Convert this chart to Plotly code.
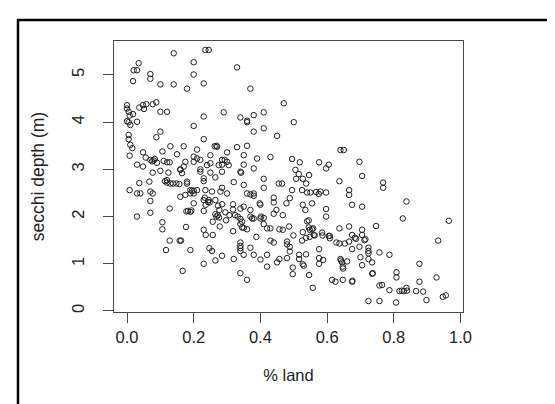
import plotly.graph_objects as go

# % land (x) and secchi depth in m (y)
pct_land = [
    0.035, 0.02, 0.03, 0.018, 0.07, 0.07, 0.1, 0.14, 0.14, 0.18, 0.2, 0.2, 0.23, 0.235, 0.245, 0.33, 0.37,
    0.0, 0.0, 0.005, 0.008, 0.0, 0.005, 0.018, 0.03, 0.01, 0.005, 0.005, 0.01, 0.016, 0.008, 0.037, 0.048,
    0.058, 0.051, 0.077, 0.088, 0.1, 0.12, 0.1, 0.088, 0.2, 0.23, 0.29, 0.34, 0.36, 0.36, 0.38, 0.41, 0.41,
    0.38, 0.45, 0.47, 0.5, 0.23, 0.36, 0.35, 0.33, 0.263, 0.268, 0.27, 0.17, 0.13, 0.15, 0.106, 0.048, 0.64,
    0.65, 0.21,
    0.03, 0.048, 0.056, 0.07, 0.075, 0.08, 0.083, 0.09, 0.077, 0.1, 0.11, 0.12, 0.128, 0.124, 0.114, 0.12,
    0.13, 0.138, 0.148, 0.157, 0.12, 0.16, 0.17, 0.175, 0.18, 0.165, 0.18, 0.19, 0.19, 0.195, 0.2, 0.16,
    0.175, 0.2, 0.2, 0.21, 0.22, 0.22, 0.23, 0.23, 0.24, 0.25, 0.25, 0.21, 0.235, 0.255, 0.265, 0.275,
    0.285, 0.285, 0.3, 0.3, 0.305, 0.28, 0.285, 0.3, 0.32, 0.34, 0.342, 0.35, 0.35, 0.38, 0.39, 0.36, 0.38,
    0.37, 0.38, 0.41, 0.41, 0.43, 0.455, 0.465, 0.495, 0.518, 0.505, 0.515, 0.507, 0.527, 0.546, 0.537,
    0.495, 0.525, 0.54, 0.55, 0.567, 0.575, 0.58, 0.576, 0.597, 0.605, 0.597, 0.637, 0.666, 0.666, 0.697,
    0.705, 0.768, 0.768, 0.675, 0.705, 0.838, 0.827, 0.965, 0.933,
    0.008, 0.03, 0.04, 0.037, 0.067, 0.07, 0.077, 0.07, 0.07, 0.03, 0.128, 0.106, 0.106, 0.117, 0.128,
    0.158, 0.162, 0.167, 0.177, 0.178, 0.183, 0.19, 0.193, 0.19, 0.2, 0.2, 0.23, 0.233, 0.245, 0.236,
    0.248, 0.243, 0.23, 0.23, 0.236, 0.23, 0.247, 0.255, 0.257, 0.265, 0.273, 0.257, 0.265, 0.268, 0.272,
    0.276, 0.277, 0.278, 0.265, 0.285, 0.285, 0.295, 0.297, 0.307, 0.318, 0.318, 0.324, 0.332, 0.34,
    0.318, 0.34, 0.345, 0.345, 0.35, 0.36, 0.32, 0.34, 0.35, 0.34, 0.34, 0.34, 0.34, 0.35, 0.34, 0.36,
    0.37, 0.37, 0.375, 0.38, 0.37, 0.38, 0.388, 0.398, 0.4, 0.4, 0.41, 0.402, 0.4, 0.42, 0.42, 0.41, 0.42,
    0.43, 0.43, 0.44, 0.44, 0.44, 0.44, 0.448, 0.457, 0.45, 0.457, 0.467, 0.467, 0.48, 0.478, 0.488, 0.486,
    0.48, 0.48, 0.488, 0.488, 0.499, 0.497, 0.497, 0.516, 0.516, 0.527, 0.535, 0.527, 0.525, 0.527, 0.53,
    0.54, 0.545, 0.545, 0.548, 0.537, 0.537, 0.548, 0.555, 0.558, 0.56, 0.563, 0.555, 0.546, 0.557, 0.576,
    0.576, 0.576, 0.586, 0.597, 0.597, 0.608, 0.615, 0.625, 0.637, 0.637, 0.64, 0.642, 0.645, 0.647, 0.648,
    0.647, 0.653, 0.66, 0.666, 0.666, 0.675, 0.675, 0.675, 0.676, 0.687, 0.697, 0.7, 0.705, 0.705, 0.712,
    0.715, 0.724, 0.724, 0.724, 0.724, 0.735, 0.735, 0.737, 0.747, 0.757, 0.757, 0.765, 0.787, 0.787,
    0.808, 0.808, 0.817, 0.824, 0.83, 0.838, 0.84, 0.867, 0.877, 0.877, 0.888, 0.898, 0.928, 0.947, 0.956,
    0.724, 0.757, 0.807,
    0.705, 0.683, 0.585, 0.605, 0.628, 0.588, 0.608, 0.16, 0.22, 0.25, 0.293, 0.285,
]
secchi_depth = [
    5.25, 5.1, 5.1, 4.87, 5.02, 4.92, 4.8, 4.8, 5.46, 4.71, 5.27, 5.01, 4.82, 5.53, 5.53, 5.16, 4.71,
    4.36, 4.29, 4.22, 4.14, 4.02, 4.0, 4.17, 4.01, 3.94, 3.73, 3.64, 3.52, 3.45, 3.29, 4.31, 4.36,
    4.38, 4.28, 4.38, 4.42, 4.22, 4.22, 3.8, 3.68, 3.92, 4.12, 4.21, 4.1, 4.03, 4.0, 4.15, 4.21, 3.87,
    3.8, 3.71, 4.4, 4.0, 3.64, 3.5, 3.3, 3.47, 3.49, 3.5, 3.48, 3.49, 3.49, 3.32, 3.38, 3.36, 3.41,
    3.41, 3.42,
    3.1, 3.06, 3.25, 3.2, 3.17, 3.19, 3.22, 3.14, 2.93, 2.97, 3.18, 3.15, 3.15, 2.93, 2.75, 2.72,
    2.7, 2.7, 2.7, 2.69, 2.77, 2.99, 3.06, 3.16, 2.74, 2.92, 2.7, 2.56, 2.49, 2.55, 2.55, 2.42,
    2.46, 3.27, 3.16, 3.23, 2.95, 3.2, 2.81, 2.75, 3.09, 3.3, 3.13, 2.56, 2.56, 2.53, 2.83, 3.09,
    3.2, 2.95, 3.36, 3.16, 3.09, 2.53, 2.61, 2.49, 2.73, 2.95, 2.93, 3.1, 2.67, 3.02, 3.23, 2.49, 2.49,
    2.47, 2.44, 2.8, 2.61, 3.26, 2.7, 2.7, 3.22, 3.15, 2.99, 2.9, 2.8, 2.8, 2.88, 2.7,
    2.56, 2.56, 2.51, 2.51, 2.52, 2.48, 2.53, 3.15, 3.02, 3.1, 2.51, 2.75, 2.56, 2.46, 3.16,
    2.86, 2.72, 2.61, 2.25, 2.21, 2.32, 1.96, 1.91, 1.49,
    2.56, 2.49, 2.49, 2.71, 2.74, 2.53, 2.49, 2.33, 2.08, 2.0, 2.17, 1.88, 1.73, 1.29, 1.49,
    1.49, 1.49, 0.85, 1.78, 2.11, 2.12, 2.1, 2.13, 1.29, 2.28, 2.49, 2.35, 2.4, 2.35, 2.25,
    2.3, 2.31, 2.12, 1.72, 1.61, 1.0, 1.33, 1.27, 1.61, 2.35, 2.23, 1.89, 2.05, 2.0, 2.03,
    1.98, 2.14, 1.79, 1.07, 1.17, 2.26, 2.09, 1.92, 2.03, 2.26, 2.15, 2.03, 2.0, 1.95,
    1.69, 1.84, 1.89, 1.77, 1.76, 1.73, 1.1, 2.17, 2.21, 1.45, 1.38, 1.33, 1.27, 1.19, 0.8, 0.66,
    2.14, 2.0, 1.96, 1.96, 1.34, 1.19, 1.57, 2.28, 2.25, 1.96, 1.97, 2.0, 1.09, 1.19, 0.94, 1.84, 1.75,
    1.75, 1.49, 2.3, 2.4, 2.06, 1.45, 2.14, 1.73, 1.03, 1.1, 2.03, 1.72, 1.12, 2.28, 2.39, 1.79,
    1.47, 1.41, 1.36, 1.26, 1.6, 0.92, 0.78, 1.19, 1.1, 2.25, 2.14, 1.67, 1.49, 0.99, 0.96,
    1.9, 1.92, 1.77, 1.72, 1.2, 1.55, 1.57, 1.73, 1.75, 1.61, 1.6, 2.28, 0.76, 0.49, 1.31,
    1.12, 1.0, 1.6, 2.16, 2.0, 1.54, 0.66, 0.62, 1.75, 1.43, 1.1, 1.07, 1.03, 0.94, 0.9,
    0.66, 1.43, 1.05, 1.79, 1.47, 1.61, 1.31, 0.62, 0.64, 1.53, 1.36, 1.14, 1.72, 0.97, 1.5,
    1.52, 1.34, 1.27, 1.22, 1.1, 1.03, 0.79, 0.8, 1.8, 1.24, 0.54, 0.55, 1.19, 0.44,
    0.82, 0.71, 0.42, 0.43, 0.42, 0.49, 0.43, 0.42, 1.0, 0.62, 0.41, 0.23, 0.71, 0.3, 0.33,
    0.21, 0.21, 0.18,
    1.61, 1.55, 1.66, 1.59, 1.45, 1.08, 1.59, 3.0, 3.0, 2.93, 3.2, 3.1,
]

x_ticks = [0.0, 0.2, 0.4, 0.6, 0.8, 1.0]
x_tick_labels = ["0.0", "0.2", "0.4", "0.6", "0.8", "1.0"]
y_ticks = [0, 1, 2, 3, 4, 5]
y_tick_labels = ["0", "1", "2", "3", "4", "5"]

W, H = 555, 404
ML, MR, MT, MB = 106, 100, 33, 100
pw, ph = W - ML - MR, H - MT - MB

FONT = "Liberation Sans, Arial, Helvetica, sans-serif"
INK = "#222222"
AX = "#4a4a4a"

fig = go.Figure()
fig.add_trace(go.Scatter(
    x=pct_land, y=secchi_depth, mode="markers",
    marker=dict(symbol="circle-open", size=5.5, color=INK, line=dict(width=1, color=INK)),
    hoverinfo="x+y", showlegend=False,
))

axis_common = dict(
    showgrid=False, zeroline=False, showline=True, mirror=True,
    linecolor=AX, linewidth=1.3, ticks="outside", ticklen=10, tickwidth=1.2,
    tickcolor=AX, tickfont=dict(family=FONT, size=16.5, color=INK),
)

fig.update_layout(
    width=W, height=H,
    margin=dict(l=ML, r=MR, t=MT, b=MB, autoexpand=False),
    paper_bgcolor="white", plot_bgcolor="white",
    font=dict(family=FONT, color=INK),
    xaxis=dict(
        range=[-0.039, 1.0075], tickmode="array", tickvals=x_ticks, ticktext=x_tick_labels,
        ticklabelstandoff=0,
        title=dict(text="% land", font=dict(family=FONT, size=16.5, color=INK), standoff=24),
        **axis_common,
    ),
    yaxis=dict(
        range=[-0.022, 5.72], tickmode="array", tickvals=y_ticks, ticktext=y_tick_labels,
        tickangle=-90, ticklabelstandoff=12,
        title=dict(text="secchi depth (m)", font=dict(family=FONT, size=17.5, color=INK), standoff=20),
        **axis_common,
    ),
    shapes=[dict(
        type="rect", xref="paper", yref="paper",
        x0=(10 - ML) / pw, x1=(W + 20 - ML) / pw,
        y0=(H - MB - (H + 20)) / ph, y1=(H - MB - 12) / ph,
        line=dict(color="black", width=2.5), fillcolor="rgba(0,0,0,0)", layer="above",
    )],
)

fig.write_html("out.html")
